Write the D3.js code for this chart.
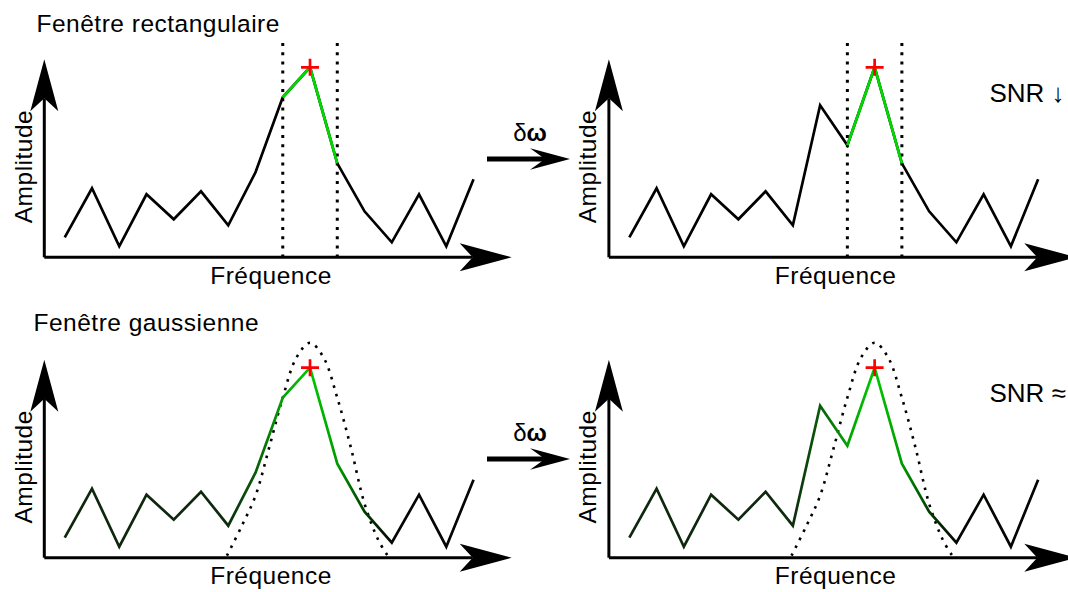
<!DOCTYPE html>
<html>
<head>
<meta charset="utf-8">
<script src="https://cdn.jsdelivr.net/npm/d3@7"></script>
<style>
  body { margin: 0; background: #fff; }
  text { font-family: "Liberation Sans", Arial, Helvetica, sans-serif; fill: #000; }
</style>
</head>
<body>
<svg id="chart" width="1068" height="592"></svg>
<script>
// spectrum, one value per frequency bin
const bins = d3.range(16);
const ampBefore = [1.0, 3.45, 0.55, 3.15, 1.9, 3.3, 1.6, 4.25, 8.0, 9.5, 4.7, 2.3, 0.75, 3.15, 0.55, 3.9];
const ampAfter  = [1.0, 3.45, 0.55, 3.15, 1.9, 3.3, 1.6, 7.6, 5.6, 9.5, 4.7, 2.3, 0.75, 3.15, 0.55, 3.9];
const peakBin = 9;
const rectLimits = [8, 10];
// gaussian window (offset from peak bin, amplitude)
const gaussOffset = [-3.05, -2.5, -2, -1.5, -1, -0.5, 0, 0.5, 1, 1.5, 2, 2.5, 2.85];
const gaussAmp    = [0.1, 1.6, 3.1, 5.5, 8.0, 10.0, 10.75, 10.0, 8.0, 5.5, 2.7, 0.9, 0.1];
const titles = ["Fenêtre rectangulaire", "Fenêtre gaussienne"];
const snrLabels = ["SNR ↓", "SNR ≈"];
const xLabel = "Fréquence", yLabel = "Amplitude";

const svg = d3.select("#chart");
const GREEN = "#00d800";
const FONT = "24.5px", SPACING = "0.5px";

const x = d3.scaleLinear().domain([-0.75, 16.4]).range([44.3, 511.7]);
const y = d3.scaleLinear().domain([0, 9.9]).range([257.3, 59.3]);

const defs = svg.append("defs");

function arrowMarker(id, tip, back, half) {
    defs.append("marker")
        .attr("id", id)
        .attr("markerUnits", "userSpaceOnUse")
        .attr("viewBox", `${-back - 1} ${-half - 1} ${tip + back + 2} ${2 * half + 2}`)
        .attr("markerWidth", tip + back + 2)
        .attr("markerHeight", 2 * half + 2)
        .attr("refX", 0).attr("refY", 0)
        .attr("orient", "auto")
        .append("path")
        .attr("d", `M${tip},0L${-back},${-half}L0,0L${-back},${half}Z`)
        .attr("fill", "#000");
}
arrowMarker("axisArrow", 39, 13, 14);
arrowMarker("shiftArrow", 25, 15, 10.7);

const panels = [
    {dx: 0,     dy: 0,     data: ampBefore, win: "rect"},
    {dx: 564.6, dy: 0,     data: ampAfter,  win: "rect"},
    {dx: 0,     dy: 300.4, data: ampBefore, win: "gauss"},
    {dx: 564.6, dy: 300.4, data: ampAfter,  win: "gauss"}
];

const line = d3.line().x((d, i) => x(bins[i])).y(d => y(d));

// window weight at a bin, 0 outside the window
function gaussAt(bin) {
    let o = bin - peakBin;
    if (o <= gaussOffset[0] || o >= gaussOffset[gaussOffset.length - 1]) return 0;
    let j = d3.bisectRight(gaussOffset, o);
    let t = (o - gaussOffset[j - 1]) / (gaussOffset[j] - gaussOffset[j - 1]);
    return gaussAmp[j - 1] + t * (gaussAmp[j] - gaussAmp[j - 1]);
}

panels.forEach((p, k) => {
    let g = svg.append("g").attr("transform", `translate(${p.dx},${p.dy})`);

    // axes
    g.append("line")
        .attr("x1", x(-0.75)).attr("y1", y(0))
        .attr("x2", x(-0.75)).attr("y2", y(9.9) + 39)
        .attr("stroke", "#000").attr("stroke-width", 3)
        .attr("marker-end", "url(#axisArrow)");
    g.append("line")
        .attr("x1", x(-0.75)).attr("y1", y(0))
        .attr("x2", x(16.4) - 39).attr("y2", y(0))
        .attr("stroke", "#000").attr("stroke-width", 3)
        .attr("marker-end", "url(#axisArrow)");

    g.append("text")
        .attr("x", 271).attr("y", 284)
        .attr("text-anchor", "middle")
        .style("font-size", FONT).style("letter-spacing", SPACING)
        .text(xLabel);
    g.append("text")
        .attr("transform", "translate(31.5,166.5) rotate(-90)")
        .attr("text-anchor", "middle")
        .style("font-size", FONT).style("letter-spacing", SPACING)
        .text(yLabel);

    if (p.win === "rect") {
        g.selectAll("line.limit")
            .data(rectLimits)
            .enter().append("line")
            .attr("class", "limit")
            .attr("x1", d => x(d)).attr("x2", d => x(d))
            .attr("y1", 43).attr("y2", y(0))
            .attr("stroke", "#000").attr("stroke-width", 3)
            .attr("stroke-dasharray", "3 6.2");

        g.append("path")
            .attr("d", line(p.data))
            .attr("fill", "none").attr("stroke", "#000")
            .attr("stroke-width", 2.7).attr("stroke-linejoin", "miter");

        let inside = p.data.slice(rectLimits[0], rectLimits[1] + 1);
        g.append("path")
            .attr("d", d3.line().x((d, i) => x(bins[rectLimits[0] + i])).y(d => y(d))(inside))
            .attr("fill", "none").attr("stroke", GREEN)
            .attr("stroke-width", 2.7).attr("stroke-linejoin", "miter");
    } else {
        let win = gaussOffset.map((o, i) => [peakBin + o, gaussAmp[i]]);
        g.append("path")
            .attr("d", d3.line().x(d => x(d[0])).y(d => y(d[1])).curve(d3.curveCatmullRom)(win))
            .attr("fill", "none").attr("stroke", "#000")
            .attr("stroke-width", 2.6).attr("stroke-dasharray", "2.6 6.2");

        // stroke colour follows the window weight (gradient in the group's own coords)
        let gid = "gw" + k;
        let grad = defs.append("linearGradient")
            .attr("id", gid)
            .attr("gradientUnits", "userSpaceOnUse")
            .attr("x1", x(bins[0])).attr("x2", x(bins[bins.length - 1]))
            .attr("y1", 0).attr("y2", 0);
        let peakW = d3.max(gaussAmp);
        bins.forEach(b => {
            let w = gaussAt(b) / peakW;
            let base = b < peakBin ? "#0e280e" : "#030603";
            grad.append("stop")
                .attr("offset", (x(b) - x(bins[0])) / (x(bins[bins.length - 1]) - x(bins[0])))
                .attr("stop-color", d3.interpolateRgb(base, "#00c800")(Math.pow(w, 0.9)));
        });

        g.append("path")
            .attr("d", line(p.data))
            .attr("fill", "none").attr("stroke", `url(#${gid})`)
            .attr("stroke-width", 2.7).attr("stroke-linejoin", "miter");
    }

    // detected maximum
    g.append("path")
        .attr("transform", `translate(${x(peakBin)},${y(p.data[peakBin])})`)
        .attr("d", "M-9,0H9M0,-8.5V8.5")
        .attr("stroke", "#ff0000").attr("stroke-width", 2.7);
});

// row titles
svg.append("text").attr("x", 36.5).attr("y", 32)
    .style("font-size", FONT).style("letter-spacing", SPACING).text(titles[0]);
svg.append("text").attr("x", 33.5).attr("y", 331)
    .style("font-size", FONT).style("letter-spacing", SPACING).text(titles[1]);

// frequency shift arrows
[0, 300].forEach((oy, i) => {
    svg.append("line")
        .attr("x1", 487).attr("x2", 545)
        .attr("y1", 159 + oy).attr("y2", 159 + oy)
        .attr("stroke", "#000").attr("stroke-width", 5)
        .attr("marker-end", "url(#shiftArrow)");
    let t = svg.append("text")
        .attr("x", 530).attr("y", 141 + oy)
        .attr("text-anchor", "middle")
        .style("font-size", "24px");
    t.append("tspan").text("δ");
    t.append("tspan").style("font-weight", "bold").text("ω");

    svg.append("text")
        .attr("x", 989.5).attr("y", 101.7 + oy)
        .style("font-size", "26px")
        .text(snrLabels[i]);
});
</script>
</body>
</html>
